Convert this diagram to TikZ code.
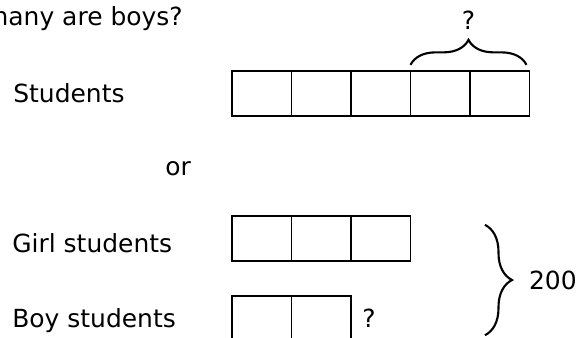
\documentclass[tikz,border=0pt]{standalone}
\usepackage{fontspec}
\setmainfont{DejaVu Sans}
\usetikzlibrary{positioning,decorations.pathreplacing}

\begin{document}
\begin{tikzpicture}[font=\fontsize{14.2}{17}\selectfont,
 cell/.style={draw,line width=1.1pt,minimum width=1.19cm,minimum height=.9cm,
 inner sep=0pt,outer sep=0pt},
 lbl/.style={anchor=base west,inner sep=0pt},
 brc/.style={decorate,decoration={brace,amplitude=.5cm},line width=1.2pt}]
\useasboundingbox (0,0) rectangle (11.54,-6.74);

\node[anchor=base east,inner sep=0pt] (ask) at (3.66,-.5) {many are boys?};

% whole class
\node[lbl] (stud) at (.26,-2.04) {Students};
\node[cell] (s1) at (5.235,-1.867) {};
\foreach \i [count=\j from 2] in {1,...,4}
  \node[cell,right=0pt of s\i] (s\j) {};
\draw[brc] ([yshift=.12cm]s4.north west) -- node[above=.69cm,inner sep=0pt] (q1) {?}
 ([xshift=-.06cm,yshift=.12cm]s5.north east);

\node[lbl] (or) at (3.3,-3.5) {or};

% girls and boys
\node[lbl] (girl) at (.24,-5.04) {Girl students};
\node[cell] (g1) at (5.235,-4.777) {};
\foreach \i [count=\j from 2] in {1,2}
  \node[cell,right=0pt of g\i] (g\j) {};
\node[lbl] (boy) at (.24,-6.54) {Boy students};
\node[cell] (b1) at (5.235,-6.364) {};
\node[cell,right=0pt of b1] (b2) {};
\node[right=.22cm of b2,inner sep=0pt] (q2) {?};

\draw[brc,decoration={amplitude=.54cm}] ([xshift=1.49cm,yshift=-.17cm]g3.north east)
 -- node[right=.86cm,inner sep=0pt] (tot) {200} ([xshift=2.68cm,yshift=.11cm]b2.south east);
\end{tikzpicture}
\end{document}
